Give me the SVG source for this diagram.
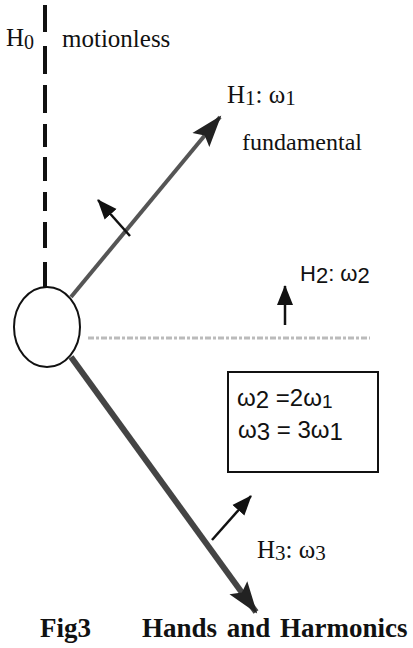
<svg xmlns="http://www.w3.org/2000/svg" width="413" height="648" viewBox="0 0 413 648">
<style>
.serif{font-family:"Liberation Serif","Times New Roman",serif;fill:#111}
.sans{font-family:"Liberation Sans",Arial,sans-serif;fill:#111}
.small{stroke:#111;stroke-width:2.5;fill:none}
</style>
<defs>
<marker id="bigHead" markerUnits="userSpaceOnUse" markerWidth="34" markerHeight="26" refX="30" refY="13" orient="auto">
<path d="M0,2 L32,13 L0,24 L6,13 Z" fill="#222"/>
</marker>
<marker id="smallHead" markerUnits="userSpaceOnUse" markerWidth="22" markerHeight="18" refX="19" refY="9" orient="auto">
<path d="M0,1 L20,9 L0,17 Z" fill="#111"/>
</marker>
</defs>
<rect width="413" height="648" fill="#fff"/>
<g id="connectors">
<path id="h0-line" d="M45 5V32M45 46V74M45 85V113M45 124V147M45 157V181M45 192V211M45 222V248M45 262V288" stroke="#111" stroke-width="4" fill="none"/>
<line id="h1-line" x1="71" y1="297" x2="220" y2="117" stroke="#555" stroke-width="4" marker-end="url(#bigHead)"/>
<line id="h2-line" x1="88" y1="338" x2="370" y2="338" stroke="#bbb" stroke-width="3" stroke-dasharray="6 2 3 2"/>
<line id="h3-line" x1="71" y1="357" x2="256" y2="612" stroke="#444" stroke-width="6" marker-end="url(#bigHead)"/>
<line id="h1-normal" class="small" x1="130" y1="236" x2="98" y2="200" marker-end="url(#smallHead)"/>
<line id="h2-normal" class="small" x1="285" y1="325" x2="285" y2="286" marker-end="url(#smallHead)"/>
<line id="h3-normal" class="small" x1="212" y1="540" x2="251" y2="496" marker-end="url(#smallHead)"/>
</g>
<g id="hub">
<ellipse cx="47" cy="327" rx="33" ry="40" fill="#fff" stroke="#111" stroke-width="2"/>
</g>
<g id="h0-label">
<text class="serif" x="6" y="46" font-size="25">H<tspan font-size="20" dy="3">0</tspan></text>
<text class="serif" x="62" y="47" font-size="25">motionless</text>
</g>
<g id="h1-label">
<text class="serif" x="227" y="103" font-size="25">H<tspan font-size="21" dy="2">1</tspan><tspan dy="-2">: ω</tspan><tspan font-size="21" dy="2">1</tspan></text>
<text class="serif" x="242" y="150" font-size="24">fundamental</text>
</g>
<g id="h2-label">
<text class="sans" x="300" y="281" font-size="22">H<tspan dy="2">2</tspan><tspan dy="-2">: ω</tspan><tspan dy="2">2</tspan></text>
</g>
<g id="relation-box">
<rect x="228" y="372" width="150" height="100" fill="#fff" stroke="#111" stroke-width="2"/>
<text class="sans" x="237" y="406" font-size="24">ω<tspan dy="2">2</tspan><tspan dy="-2"> =2ω</tspan><tspan font-size="19" dy="2">1</tspan></text>
<text class="sans" x="238" y="438" font-size="24">ω<tspan dy="2">3</tspan><tspan dy="-2"> = 3ω</tspan><tspan dy="2">1</tspan></text>
</g>
<g id="h3-label">
<text class="serif" x="257" y="558" font-size="25">H<tspan font-size="21" dy="2">3</tspan><tspan dy="-2">: ω</tspan><tspan font-size="21" dy="2">3</tspan></text>
</g>
<g id="caption">
<text class="serif" x="40" y="637" font-size="27" font-weight="bold">Fig3</text>
<text class="serif" x="142" y="637" font-size="27" font-weight="bold" word-spacing="3">Hands and Harmonics</text>
</g>
</svg>
